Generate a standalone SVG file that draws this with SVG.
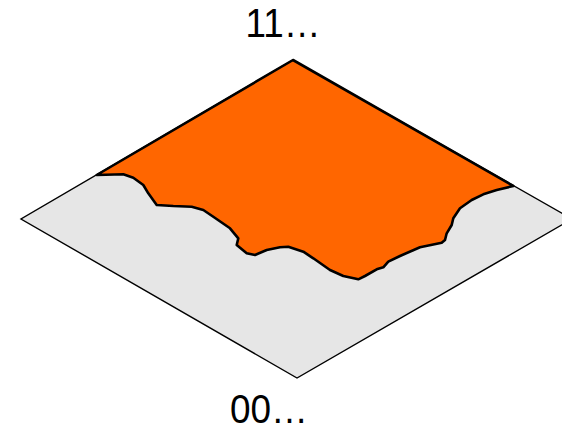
<svg xmlns="http://www.w3.org/2000/svg" width="562" height="430" viewBox="0 0 562 430">
<style>
.base{fill:#e6e6e6;stroke:#000;stroke-width:1.4;stroke-linejoin:miter}
.region{fill:#ff6600;stroke:#000;stroke-width:2.6;stroke-linejoin:round;stroke-linecap:round}
.lbl{font-family:"Liberation Sans",Arial,sans-serif;font-size:40px;fill:#000;text-anchor:middle}
</style>
<rect width="562" height="430" fill="#fff"/>
<g id="plane">
<polygon class="base" points="293,60 572,219 297,378 21,219"/>
</g>
<g id="region">
<path class="region" d="M96.7,175 L293,60 L513.3,186 L496.7,190 L483.3,194.3 L471.7,200 L460,208.3 L453.3,218.3 L451.7,225 L446.7,233.3 L445,240 L441.7,242.7 L420,247.3 L400,256 L388.3,261.7 L383.3,267.3 L376.7,269.3 L365,276 L358.3,279.3 L343.3,276 L330,270 L313.3,258.3 L303.3,251.7 L288.3,246.7 L280,247.3 L266.7,250 L255,255 L246.7,253.3 L236.7,245 L238.3,238.3 L230,228.3 L213.3,216.7 L203.3,210 L191.7,206.7 L173.3,206 L156.7,205 L148.3,193.3 L143.3,185 L133.3,177.7 L123.3,174.3 Z"/>
</g>
<g id="labels">
<text class="lbl" x="283" y="37" textLength="75" lengthAdjust="spacingAndGlyphs">11…</text>
<text class="lbl" x="269" y="423" textLength="78" lengthAdjust="spacingAndGlyphs">00…</text>
</g>
</svg>
